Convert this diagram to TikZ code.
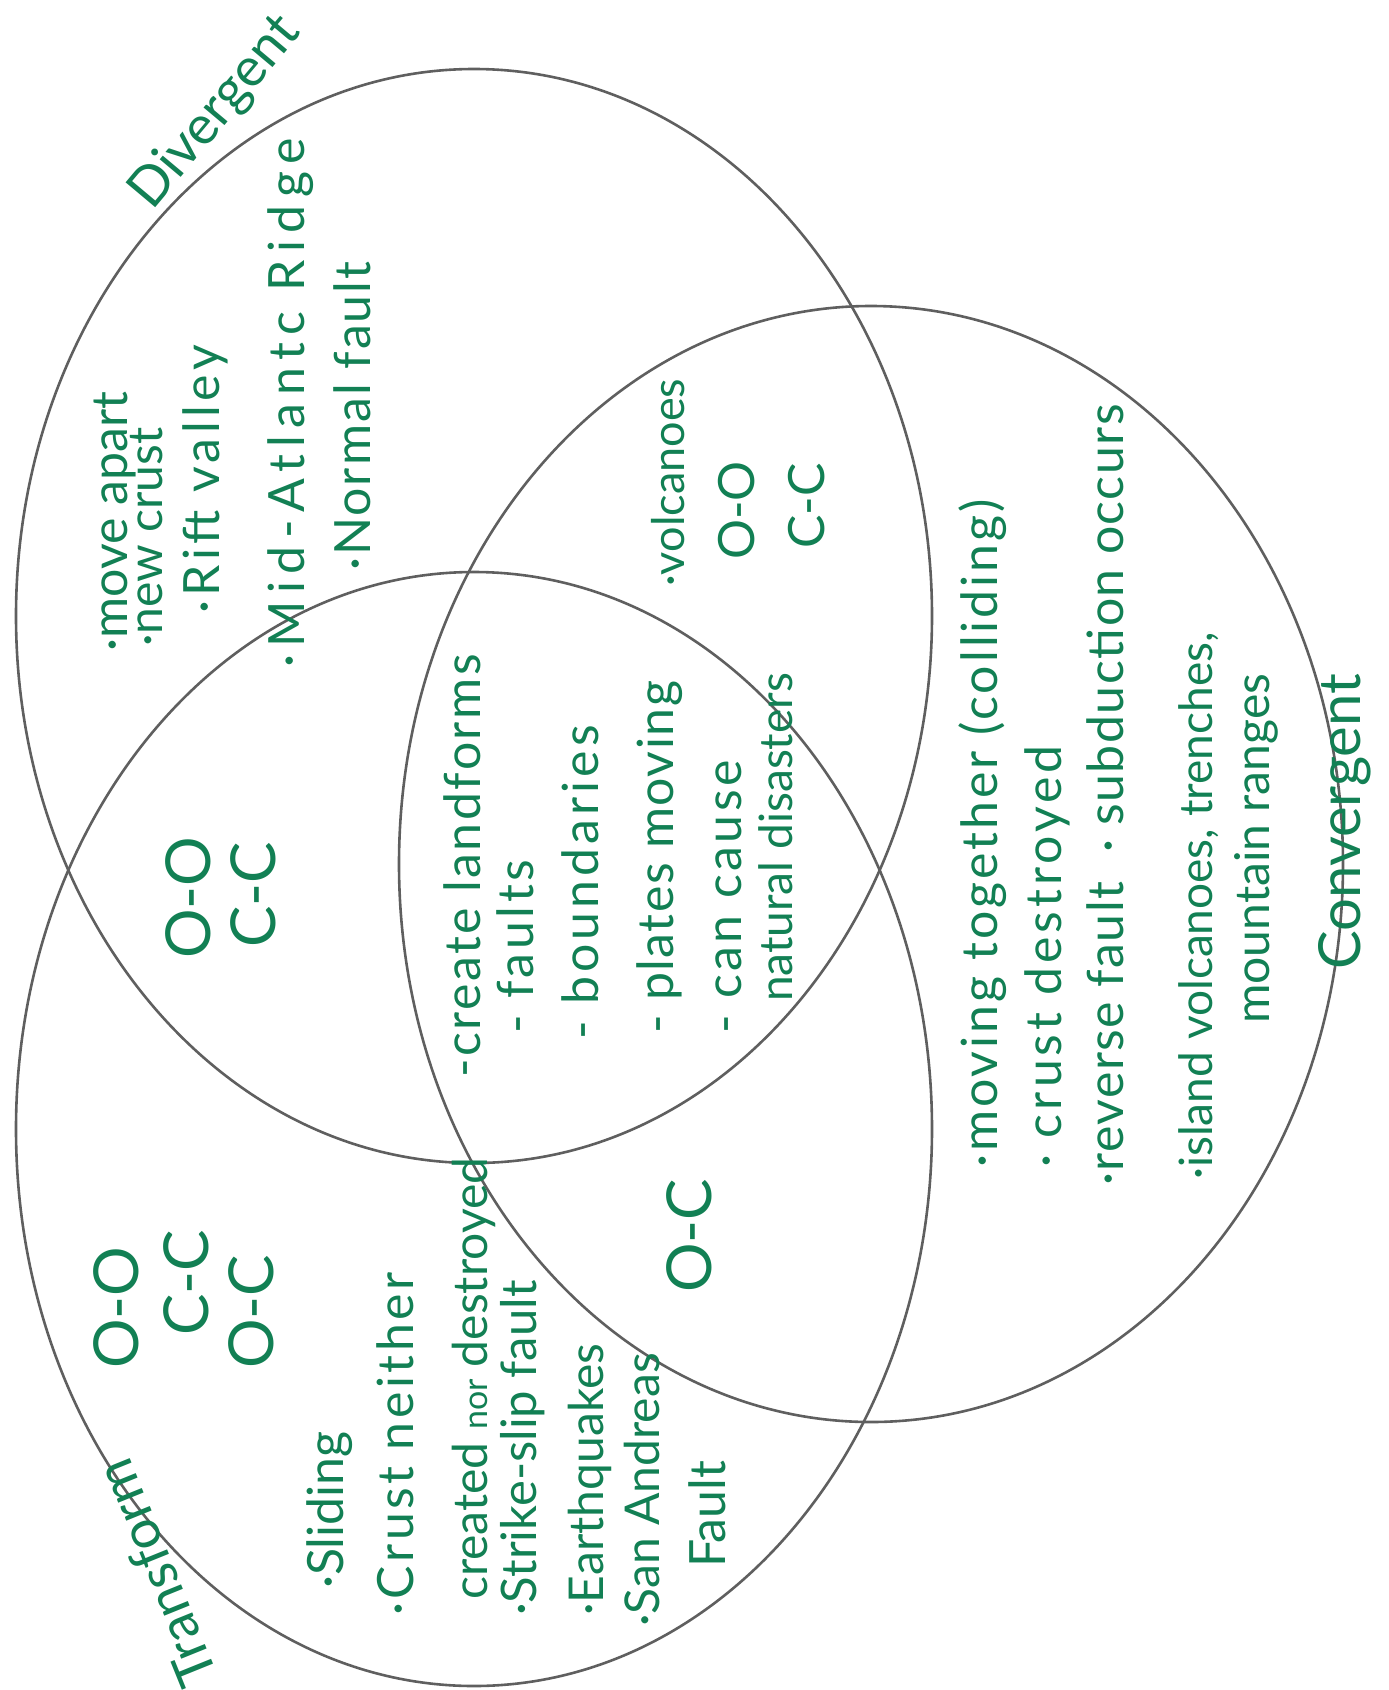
\documentclass[tikz,border=0pt]{standalone}
\usepackage{fontspec}
\setmainfont{Lato}
\usepackage{tikz}
\definecolor{InkGreen}{RGB}{18,128,84}
\definecolor{Pencil}{RGB}{95,95,95}
\tikzset{
	ring/.style={draw=Pencil,line width=2.6pt},
	note/.style={InkGreen,rotate=90,anchor=base west,inner sep=0pt,font=\fontsize{50}{54}\selectfont},
	fs/.style={font=\fontsize{#1}{#1}\selectfont},
	ls/.style={font=\fontsize{50}{54}\selectfont\addfontfeature{LetterSpace=#1}},
	pair/.style={note,fs=62},
	title/.style={InkGreen,inner sep=0pt,fs=54},
}
\begin{document}
\begin{tikzpicture}[x=1pt,y=-1pt]
	\useasboundingbox (0,0) rectangle (1389,1690);
	\coordinate (div) at (474,616);
	\coordinate (trf) at (474,1129);
	\coordinate (cnv) at (871,864);
	\draw[ring] (div) ellipse [x radius=458,y radius=547];
	\draw[ring] (trf) ellipse [x radius=458,y radius=557];
	\draw[ring] (cnv) ellipse [x radius=472,y radius=558];
	% labels of the three circles
	\node[title,rotate=50] (divlabel) at (216,113) {Divergent};
	\node[title,rotate=112] (trflabel) at (156,1573) {Transform};
	\node[note,fs=58] (cnvlabel) at (1360,970) {Convergent};
	% divergent only
	\node[note] (moveapart) at (127,652) {·move apart};
	\node[note,fs=48] (newcrust) at (162,647) {·new crust};
	\node[note,ls=9] (rift) at (219,614) {·Rift valley};
	\node[note,ls=15] (ridge) at (304,668) {·Mid-Atlantc Ridge};
	\node[note,ls=4] (normal) at (370,571) {·Normal fault};
	% divergent and convergent
	\node[note,fs=45] (volc) at (684,587) {·volcanoes};
	\node[note] (dcoo) at (754,560) {O-O};
	\node[note] (dccc) at (824,549) {C-C};
	% divergent and transform
	\node[pair] (dtoo) at (210,959) {O-O};
	\node[pair] (dtcc) at (275,948) {C-C};
	% all three
	\node[note,ls=5] (landforms) at (480,1078) {-create landforms};
	\node[note,ls=7] (faults) at (533,1034) {- faults};
	\node[note,ls=8] (bounds) at (598,1040) {- boundaries};
	\node[note,ls=3] (plates) at (673,1034) {- plates moving};
	\node[note,ls=7] (cause) at (741,1034) {- can cause};
	\node[note,fs=46] (disaster) at (792,1002) {natural disasters};
	% convergent only
	\node[note,ls=6] (together) at (997,1168) {·moving together (colliding)};
	\node[note,ls=8] (destroy) at (1061,1168) {· crust destroyed};
	\node[note,ls=3] (reverse) at (1123,1186) {·reverse fault \ · subduction occurs};
	\node[note,fs=46] (island) at (1212,1180) {·island volcanoes, trenches,};
	\node[note,fs=48] (ranges) at (1269,1024) {mountain ranges};
	% convergent and transform
	\node[pair] (ctoc) at (711,1293) {O-C};
	% transform only
	\node[pair] (toO) at (138,1369) {O-O};
	\node[pair] (toC) at (208,1336) {C-C};
	\node[pair] (toOC) at (273,1369) {O-C};
	\node[note] (slide) at (343,1589) {·Sliding};
	\node[note,ls=7] (neither) at (413,1616) {·Crust neither};
	\node[note,fs=48] (nor) at (487,1600) {created {\fontsize{34}{36}\selectfont nor} destroyed};
	\node[note,fs=49] (strike) at (536,1616) {·Strike-slip fault};
	\node[note,fs=48] (quake) at (603,1616) {·Earthquakes};
	\node[note,fs=48] (andreas) at (659,1627) {·San Andreas};
	\node[note] (fault) at (725,1568) {Fault};
\end{tikzpicture}
\end{document}
